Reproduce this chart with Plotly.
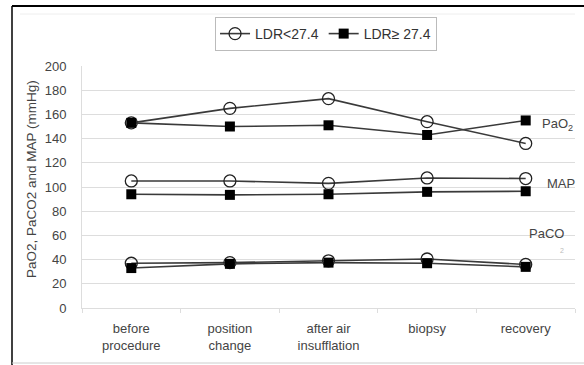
import plotly.graph_objects as go

categories = ["before<br>procedure", "position<br>change", "after air<br>insufflation", "biopsy", "recovery"]
pao2_low = [153, 165, 173, 154, 136]
pao2_high = [153, 150, 151, 143, 155]
map_low = [105, 105, 103, 107.5, 107]
map_high = [94, 93.5, 94, 96, 96.5]
paco2_low = [37, 37.5, 39, 40.5, 36]
paco2_high = [33, 36.5, 37.5, 37, 34]
legend_names = ["LDR<27.4", "LDR≥ 27.4"]
y_title = "PaO2, PaCO2 and MAP (mmHg)"

LINE = "#3a3a3a"
FONT = "Liberation Sans, Arial, sans-serif"

fig = go.Figure()

low_series = [pao2_low, map_low, paco2_low]
high_series = [pao2_high, map_high, paco2_high]

for i, ys in enumerate(low_series):
    fig.add_trace(go.Scatter(
        x=categories, y=ys, mode="lines+markers",
        name=legend_names[0], legendgroup="low", showlegend=(i == 0),
        line=dict(color=LINE, width=1.6),
        marker=dict(symbol="circle-open", size=12, color="#222", line=dict(width=1.3)),
    ))
for i, ys in enumerate(high_series):
    fig.add_trace(go.Scatter(
        x=categories, y=ys, mode="lines+markers",
        name=legend_names[1], legendgroup="high", showlegend=(i == 0),
        line=dict(color=LINE, width=1.6),
        marker=dict(symbol="square", size=10, color="#000"),
    ))

annotations = [
    dict(text="PaO<sub>2</sub>", x=540, y=124),
    dict(text="MAP", x=545, y=183),
    dict(text="PaCO", x=527, y=233),
]
W0, W1, H0, H1 = 82, 575, 66, 308
def px(x):
    return (x - W0) / (W1 - W0)
def py(y):
    return (H1 - y) / (H1 - H0)

ann = []
for a in annotations:
    ann.append(dict(text=a["text"], xref="paper", yref="paper", x=px(a["x"]), y=py(a["y"]),
                    xanchor="left", yanchor="middle", showarrow=False,
                    font=dict(family=FONT, size=13, color="#444")))
ann.append(dict(text="2", xref="paper", yref="paper", x=px(562), y=py(250), xanchor="center",
                yanchor="middle", showarrow=False, font=dict(family=FONT, size=7, color="#bbb")))
ann.append(dict(text=y_title, xref="paper", yref="paper", x=px(31), y=py(179), textangle=-90,
                xanchor="center", yanchor="middle", showarrow=False,
                font=dict(family=FONT, size=13.5, color="#444")))

shapes = [
    dict(type="line", xref="paper", yref="paper", x0=px(12), x1=px(584), y0=py(6), y1=py(6),
         line=dict(color="#000", width=2)),
    dict(type="line", xref="paper", yref="paper", x0=px(12), x1=px(12), y0=py(6), y1=py(366),
         line=dict(color="#000", width=1.5)),
    dict(type="line", xref="paper", yref="paper", x0=px(12), x1=px(584), y0=py(363), y1=py(363),
         line=dict(color="#ccc", width=1)),
    dict(type="line", xref="paper", yref="paper", x0=px(20), x1=px(575), y0=py(14), y1=py(14),
         line=dict(color="#eee", width=1)),
]

fig.update_layout(
    width=584, height=365,
    margin=dict(l=W0, r=584 - W1, t=H0, b=365 - H1),
    paper_bgcolor="white", plot_bgcolor="white",
    font=dict(family=FONT, size=12, color="#444"),
    showlegend=True,
    legend=dict(orientation="h", x=0.495, xanchor="center", y=py(17), yanchor="top",
                bordercolor="#bbb", borderwidth=1, bgcolor="white",
                font=dict(family=FONT, size=14, color="#333"),
                itemwidth=30, tracegroupgap=0),
    xaxis=dict(type="category", range=[-0.5, 4.5], showgrid=False,
               showline=True, linecolor="#ddd", linewidth=1,
               ticks="outside", tickson="boundaries", ticklen=4, tickcolor="#ddd",
               ticklabelstandoff=8,
               tickfont=dict(family=FONT, size=13, color="#444")),
    yaxis=dict(range=[0, 200], dtick=20, showgrid=True, gridcolor="#ddd", gridwidth=1,
               zeroline=False, showline=True, linecolor="#ddd", ticks="", ticklen=0,
               ticklabelstandoff=12,
               tickfont=dict(family=FONT, size=13, color="#444")),
    annotations=ann,
    shapes=shapes,
)

fig.write_html("out.html")
